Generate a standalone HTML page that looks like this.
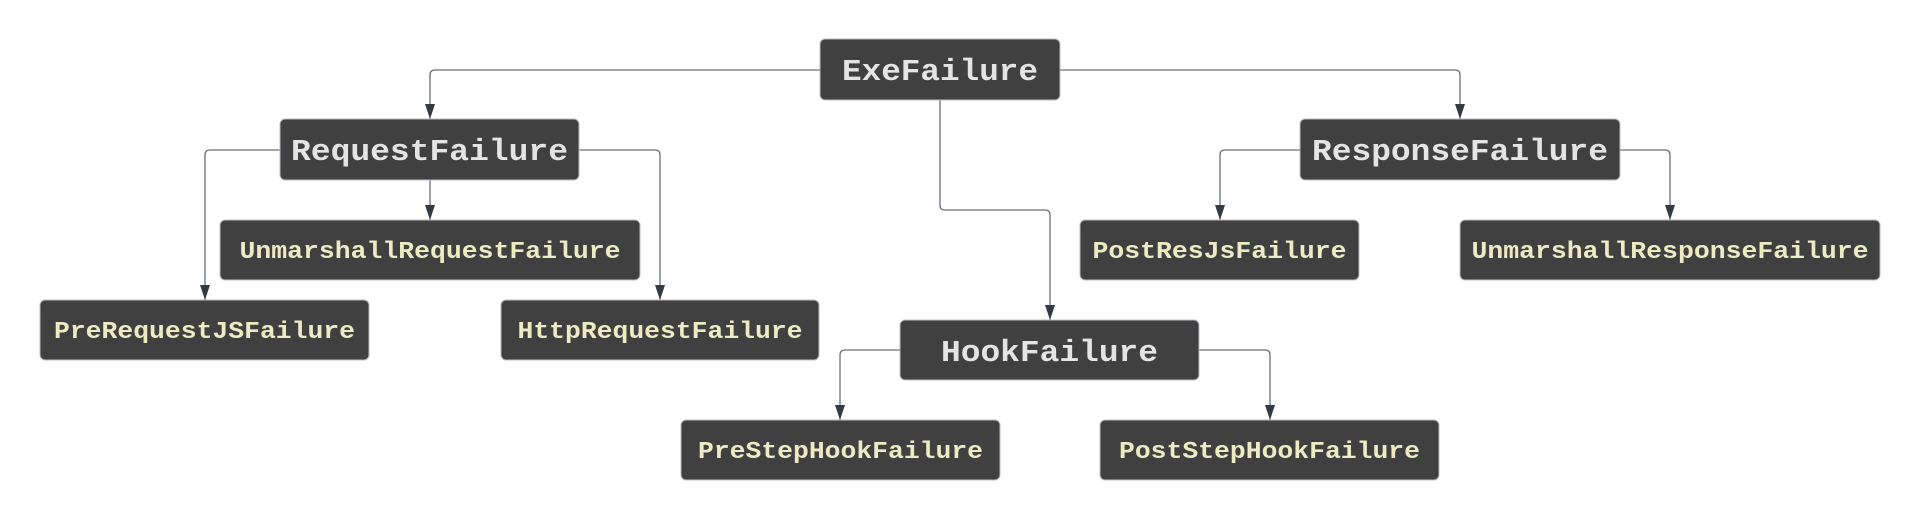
<!DOCTYPE html>
<html><head><meta charset="utf-8"><style>
html,body{margin:0;padding:0;background:#fff;width:1920px;height:520px;overflow:hidden}
text{font-family:"Liberation Mono",monospace;font-weight:bold}
.p{fill:#e4e4e4;font-size:31px}
.c{fill:#ecebc4;font-size:24px}
rect{fill:#404040;stroke:#b8bcc2;stroke-width:1}
path.e{fill:none;stroke:#6a7078;stroke-width:1.3}
</style></head><body>
<svg width="1920" height="520" viewBox="0 0 1920 520" xmlns="http://www.w3.org/2000/svg">
<defs><marker id="a" markerWidth="10" markerHeight="14" refX="5" refY="14" orient="auto-start-reverse" markerUnits="userSpaceOnUse" viewBox="0 0 10 14">
</marker></defs>
<g>
<path class="e" d="M820,70 H435 Q430,70 430,75 V119"/>
<path class="e" d="M1060,70 H1455 Q1460,70 1460,75 V119"/>
<path class="e" d="M940,100 V205 Q940,210 945,210 H1045 Q1050,210 1050,215 V320"/>
<path class="e" d="M280,150 H210 Q205,150 205,155 V300"/>
<path class="e" d="M430,180 V220"/>
<path class="e" d="M579,150 H655 Q660,150 660,155 V300"/>
<path class="e" d="M1300,150 H1225 Q1220,150 1220,155 V220"/>
<path class="e" d="M1620,150 H1665 Q1670,150 1670,155 V220"/>
<path class="e" d="M900,350 H845 Q840,350 840,355 V420"/>
<path class="e" d="M1199,350 H1265 Q1270,350 1270,355 V420"/>
</g>
<g fill="#343a44">
<polygon points="425,104 435,104 430,119"/>
<polygon points="1455,104 1465,104 1460,119"/>
<polygon points="1045,305 1055,305 1050,320"/>
<polygon points="200,285 210,285 205,300"/>
<polygon points="425,205 435,205 430,220"/>
<polygon points="655,285 665,285 660,300"/>
<polygon points="1215,205 1225,205 1220,220"/>
<polygon points="1665,205 1675,205 1670,220"/>
<polygon points="835,405 845,405 840,420"/>
<polygon points="1265,405 1275,405 1270,420"/>
</g>
<rect x="820" y="39" width="240" height="61" rx="5"/>
<text class="p" x="940" y="80" text-anchor="middle" textLength="196" lengthAdjust="spacingAndGlyphs">ExeFailure</text>
<rect x="280" y="119" width="299" height="61" rx="5"/>
<text class="p" x="429.5" y="160" text-anchor="middle" textLength="277" lengthAdjust="spacingAndGlyphs">RequestFailure</text>
<rect x="1300" y="119" width="320" height="61" rx="5"/>
<text class="p" x="1460" y="160" text-anchor="middle" textLength="296" lengthAdjust="spacingAndGlyphs">ResponseFailure</text>
<rect x="900" y="320" width="299" height="60" rx="5"/>
<text class="p" x="1049.5" y="361" text-anchor="middle" textLength="217" lengthAdjust="spacingAndGlyphs">HookFailure</text>
<rect x="220" y="220" width="420" height="60" rx="5"/>
<text class="c" x="430" y="258" text-anchor="middle" textLength="381" lengthAdjust="spacingAndGlyphs">UnmarshallRequestFailure</text>
<rect x="40" y="300" width="329" height="60" rx="5"/>
<text class="c" x="204.5" y="338" text-anchor="middle" textLength="301" lengthAdjust="spacingAndGlyphs">PreRequestJSFailure</text>
<rect x="501" y="300" width="318" height="60" rx="5"/>
<text class="c" x="660" y="338" text-anchor="middle" textLength="285" lengthAdjust="spacingAndGlyphs">HttpRequestFailure</text>
<rect x="1080" y="220" width="279" height="60" rx="5"/>
<text class="c" x="1219.5" y="258" text-anchor="middle" textLength="254" lengthAdjust="spacingAndGlyphs">PostResJsFailure</text>
<rect x="1460" y="220" width="420" height="60" rx="5"/>
<text class="c" x="1670" y="258" text-anchor="middle" textLength="397" lengthAdjust="spacingAndGlyphs">UnmarshallResponseFailure</text>
<rect x="681" y="420" width="319" height="60" rx="5"/>
<text class="c" x="840.5" y="458" text-anchor="middle" textLength="285" lengthAdjust="spacingAndGlyphs">PreStepHookFailure</text>
<rect x="1100" y="420" width="339" height="60" rx="5"/>
<text class="c" x="1269.5" y="458" text-anchor="middle" textLength="301" lengthAdjust="spacingAndGlyphs">PostStepHookFailure</text>
</svg>
</body></html>
